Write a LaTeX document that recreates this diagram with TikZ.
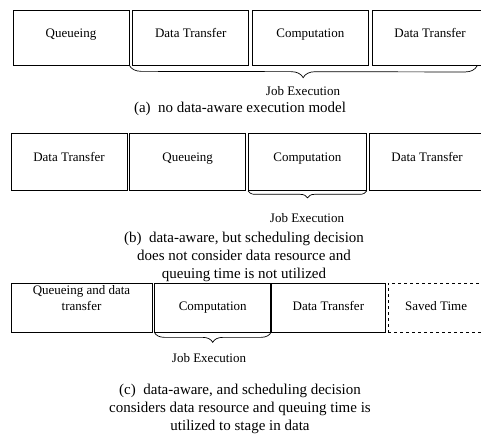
\documentclass[tikz,border=0pt]{standalone}
\usepackage{fontspec}
\setmainfont{Liberation Serif}
\usetikzlibrary{positioning,decorations.pathreplacing}
\tikzset{
  stage/.style={draw, line width=0.7pt, minimum height=55pt, inner sep=2pt,
    align=center, text height=6pt, text depth=6pt,
    font=\fontsize{13}{16}\selectfont},
  lowstage/.style={stage, minimum height=49pt, text height=9pt, text depth=3pt},
  saved/.style={lowstage, dashed},
  jobbrace/.style={decorate, line width=0.7pt,
    decoration={brace, mirror, amplitude=#1}},
  jobbrace/.default=10pt,
  joblabel/.style={font=\fontsize{13}{16}\selectfont},
  caption/.style={align=center, font=\fontsize{15}{18}\selectfont}
}

\begin{document}
\begin{tikzpicture}[x=1pt, y=-1pt, node distance=3pt]
\useasboundingbox (0,0) rectangle (481,435);
\clip (0,0) rectangle (481,435);

% (a) no data-aware execution model
\node[stage, minimum width=116pt] (qa) at (71,37.5) {Queueing};
\node[stage, minimum width=116pt, right=of qa] (ina) {Data Transfer};
\node[stage, minimum width=116pt, right=of ina] (ca) {Computation};
\node[stage, minimum width=116pt, right=of ca] (outa) {Data Transfer};
\coordinate (enda) at (477,66);
\draw[jobbrace=12pt] (qa.south east) -- (enda);
\node[joblabel] (joba) at (303,91) {Job Execution};
\node[caption] (capa) at (240,109) {(a)\enspace no data-aware execution model};

% (b) data-aware, queueing not used
\node[stage, minimum width=116pt, minimum height=57pt] (inb) at (69,162) {Data Transfer};
\node[stage, minimum width=116pt, minimum height=57pt, right=2pt of inb] (qb) {Queueing};
\node[stage, minimum width=118pt, minimum height=57pt, right=2pt of qb] (cb) {Computation};
\node[stage, minimum width=116pt, minimum height=57pt, right=2pt of cb] (outb) {Data Transfer};
\draw[jobbrace=7pt] (cb.south west) -- (cb.south east);
\node[joblabel] (jobb) at (307,218) {Job Execution};
\node[caption] (capb) at (244,257) {(b)\enspace data-aware, but scheduling decision\\
  does not consider data resource and\\queuing time is not utilized};

% (c) data-aware, queueing used to stage in data
\node[lowstage, minimum width=141pt] (qc) at (81.5,307.5) {Queueing and data\\transfer};
\node[lowstage, minimum width=116pt, right=2pt of qc] (cc) {Computation};
\node[lowstage, minimum width=114pt, right=0pt of cc] (outc) {Data Transfer};
\node[saved, minimum width=114pt, right=2pt of outc] (savc) {\hspace*{-18pt}Saved Time};
\draw[jobbrace=10pt] (cc.south west) -- (cc.south east);
\node[joblabel] (jobc) at (209,358) {Job Execution};
\node[caption] (capc) at (240,409) {(c)\enspace data-aware, and scheduling decision\\
  considers data resource and queuing time is\\utilized to stage in data};
\end{tikzpicture}
\end{document}
